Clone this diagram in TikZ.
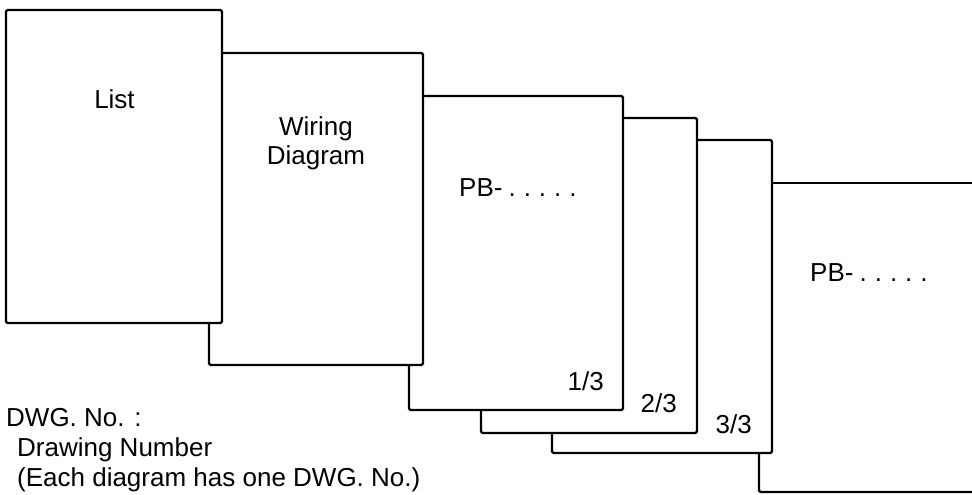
\documentclass[tikz,border=0pt]{standalone}
\usepackage{fontspec}
\setmainfont{Liberation Sans}
\newcommand{\pbdots}{PB-\hspace{6pt}.\hspace{8pt}.\hspace{8pt}.\hspace{8pt}.\hspace{8pt}.}
\begin{document}
\begin{tikzpicture}[x=1pt,y=-1pt,
  sheet/.style={draw=black,line width=2.4pt,rounded corners=1.5pt,line join=round},
  lbl/.style={inner sep=0pt,font=\fontsize{26}{30}\selectfont}]
\useasboundingbox (0,0) rectangle (972,495);
% sheets (visible edges only)
\draw[sheet] (6,10) rectangle (222,323);
\draw[sheet] (222,53) -- (423,53) -- (423,365) -- (209,365) -- (209,323);
\draw[sheet] (423,96) -- (623,96) -- (623,410) -- (409,410) -- (409,365);
\draw[sheet] (623,118) -- (697,118) -- (697,433) -- (481,433) -- (481,410);
\draw[sheet] (697,140) -- (772,140) -- (772,453) -- (552,453) -- (552,433);
\draw[sheet] (772,183) -- (980,183);
\draw[sheet] (759,453) -- (759,492) -- (980,492);
% labels
\node[lbl,anchor=base] (list) at (114.5,108) {List};
\node[lbl,anchor=base] (wiring) at (316,135) {Wiring};
\node[lbl,anchor=base] (diagram) at (316,164) {Diagram};
\node[lbl,anchor=base west] (pb1) at (459,196) {\pbdots};
\node[lbl,anchor=base west] (pb2) at (810,281) {\pbdots};
\node[lbl,anchor=base east] (p1) at (604,390) {1/3};
\node[lbl,anchor=base east] (p2) at (677,412) {2/3};
\node[lbl,anchor=base east] (p3) at (752,433) {3/3};
\node[lbl,anchor=base west] (dwg) at (6,426) {DWG. No. :};
\node[lbl,anchor=base west] (dnum) at (17,456) {Drawing Number};
\node[lbl,anchor=base west] (each) at (17,486) {(Each diagram has one DWG. No.)};
\end{tikzpicture}
\end{document}
